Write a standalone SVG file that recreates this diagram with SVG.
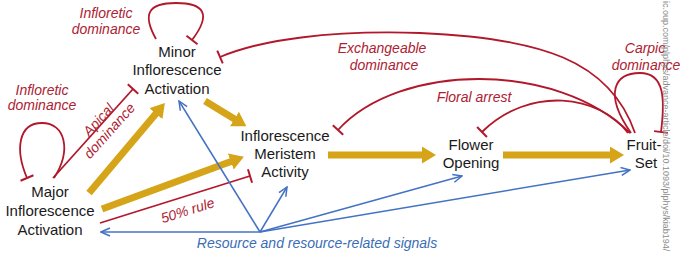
<svg xmlns="http://www.w3.org/2000/svg" width="680" height="254" viewBox="0 0 680 254">
<defs>
<style>
.node{font-family:"Liberation Sans",Arial,sans-serif;font-size:15px;fill:#1a1a1a;text-anchor:middle}
.rl{font-family:"Liberation Sans",Arial,sans-serif;font-size:14px;font-style:italic;fill:#ad2232;text-anchor:middle}
.bl{font-family:"Liberation Sans",Arial,sans-serif;font-size:14px;font-style:italic;fill:#3a6db5;text-anchor:middle}
.gold{stroke:#d6a419;stroke-width:7;fill:none;marker-end:url(#ga)}
.red{stroke:#b2182b;stroke-width:1.8;fill:none;marker-end:url(#tee)}
.blue{stroke:#4472c4;stroke-width:1.5;fill:none;marker-end:url(#ba)}
.wm{font-family:"Liberation Sans",Arial,sans-serif;font-size:9px;fill:#8c8c8c}
</style>
<marker id="ga" markerUnits="userSpaceOnUse" viewBox="0 0 14 17" markerWidth="14" markerHeight="17" refX="1" refY="8.5" orient="auto">
<path d="M0,0 L14,8.5 L0,17 z" fill="#d6a419"/>
</marker>
<marker id="tee" markerUnits="userSpaceOnUse" viewBox="-2 -8 4 16" markerWidth="4" markerHeight="16" refX="0" refY="0" orient="auto">
<path d="M0,-7 L0,7" stroke="#b2182b" stroke-width="2"/>
</marker>
<marker id="ba" markerUnits="userSpaceOnUse" viewBox="-1 -1 11 10" markerWidth="11" markerHeight="10" refX="9" refY="4" orient="auto">
<path d="M0,0 L9,4 L0,8" stroke="#4472c4" stroke-width="1.5" fill="none"/>
</marker>
</defs>

<g id="connectors">
<path class="gold" d="M89,193 L156.5,112.9"/>
<path class="gold" d="M102,209 L231.7,161.2"/>
<path class="gold" d="M205,101 L235.3,119.5"/>
<path class="gold" d="M328,155 L423,155"/>
<path class="gold" d="M503,155 L611,155"/>

<path class="red" d="M156,39 C142,14 148,3 176,3 C204,3 212,14 192,40"/>
<path class="red" d="M54,178 C72,150 65,123 42,123 C18,123 15,150 27,178"/>
<path class="red" d="M53,178 L133,89"/>
<path class="red" d="M100,223 L250,176"/>
<path class="red" d="M635,133 C610,60 540,38 420,33 C330,30 260,40 220,57"/>
<path class="red" d="M630,133 C557,61 400,62 338,130"/>
<path class="red" d="M628,133 C600,95 530,85 482,132"/>
<path class="red" d="M631,133 C603,93 615,73 640,73 C665,73 665,100 661,132"/>

<path class="blue" d="M260,232 L179,101"/>
<path class="blue" d="M260,232 L287,187"/>
<path class="blue" d="M260,232 L462,176"/>
<path class="blue" d="M260,232 L630,170"/>
<path class="blue" d="M260,232 L101,232"/>
</g>

<g id="minor">
<text class="node" x="177" y="57">Minor</text>
<text class="node" x="177" y="75">Inflorescence</text>
<text class="node" x="177" y="94">Activation</text>
</g>
<g id="major">
<text class="node" x="50" y="197">Major</text>
<text class="node" x="50" y="216">Inflorescence</text>
<text class="node" x="50" y="235">Activation</text>
</g>
<g id="ima">
<text class="node" x="285" y="141">Inflorescence</text>
<text class="node" x="285" y="159">Meristem</text>
<text class="node" x="285" y="177">Activity</text>
</g>
<g id="flower">
<text class="node" x="471" y="150">Flower</text>
<text class="node" x="471" y="168">Opening</text>
</g>
<g id="fruit">
<text class="node" x="644" y="150">Fruit-</text>
<text class="node" x="646" y="168">Set</text>
</g>

<g id="labels">
<text class="rl" x="106" y="18">Infloretic</text>
<text class="rl" x="106" y="34">dominance</text>
<text class="rl" x="42" y="95">Infloretic</text>
<text class="rl" x="42" y="110">dominance</text>
<text class="rl" transform="translate(102,123) rotate(-48)">Apical</text>
<text class="rl" transform="translate(113,134) rotate(-48)">dominance</text>
<text class="rl" transform="translate(189,215) rotate(-17.4)">50% rule</text>
<text class="rl" x="382" y="53">Exchangeable</text>
<text class="rl" x="384" y="70">dominance</text>
<text class="rl" x="474" y="102">Floral arrest</text>
<text class="rl" x="645" y="53">Carpic</text>
<text class="rl" x="646" y="70">dominance</text>
<text class="bl" x="317" y="248">Resource and resource-related signals</text>
</g>

<text class="wm" transform="translate(663,0) rotate(90)" x="1" y="0">ic.oup.com/plphys/advance-article/doi/10.1093/plphys/kiab194/</text>
</svg>
